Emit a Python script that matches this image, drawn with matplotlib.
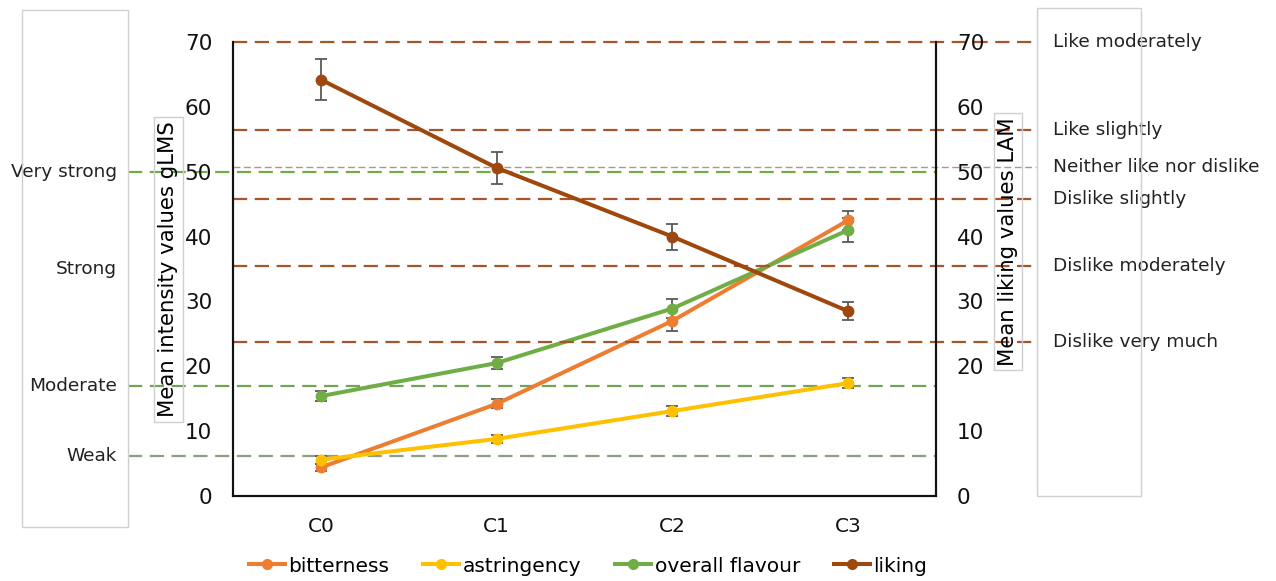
import numpy as np
import matplotlib
matplotlib.use('Agg')
import matplotlib.pyplot as plt
from matplotlib.patches import Rectangle
from matplotlib.lines import Line2D

# samples
samples = ['C0', 'C1', 'C2', 'C3']

# intensity (gLMS), left axis
bitterness = [4.4, 14.2, 27.0, 42.5]
bitterness_err = [0.6, 0.7, 1.5, 1.5]
astringency = [5.6, 8.8, 13.1, 17.4]
astringency_err = [0.6, 0.6, 0.7, 0.8]
flavour = [15.4, 20.5, 28.9, 41.0]
flavour_err = [0.8, 0.9, 1.5, 1.8]

# liking (LAM), right axis
liking = [64.2, 50.6, 40.0, 28.5]
liking_err = [3.2, 2.5, 2.0, 1.4]

# gLMS anchors (left)
glms_labels = ['Very strong', 'Strong', 'Moderate', 'Weak']
glms_values = [50.0, 35.0, 16.9, 6.1]

# LAM anchors (right)
lam_labels = ['Like moderately', 'Like slightly', 'Neither like nor dislike',
              'Dislike slightly', 'Dislike moderately', 'Dislike very much']
lam_values = [70.0, 56.5, 50.7, 45.8, 35.5, 23.7]

series_names = ['bitterness', 'astringency', 'overall flavour', 'liking']
series_colors = ['#ED7D31', '#FFC000', '#70AD47', '#9E480E']

plt.rcParams['font.family'] = 'DejaVu Sans'

fig = plt.figure(figsize=(12.76, 5.81), dpi=100)
ax = fig.add_axes([0.1826, 0.1463, 0.5509, 0.7814])
ax2 = ax.twinx()

x = np.arange(len(samples))

# reference lines, gLMS side
glms_colors = ['#70AD47', None, '#74A356', '#8C9E84']
for lab, val, col in zip(glms_labels, glms_values, glms_colors):
  if col is not None:
    ax.plot([-0.149, 1.0], [val, val], transform=ax.get_yaxis_transform(),
            color=col, lw=1.6, dashes=(6.4, 3.4), clip_on=False, zorder=1)
  ax.text(-0.165, val, lab, transform=ax.get_yaxis_transform(),
          ha='right', va='center', fontsize=13.3, color='#222222')

# reference lines, LAM side
for lab, val in zip(lam_labels, lam_values):
  if lab == 'Neither like nor dislike':
    ax2.plot([0.0, 1.142], [val, val], transform=ax2.get_yaxis_transform(),
             color='#B39585', lw=1.0, dashes=(5, 2.5), clip_on=False, zorder=1)
  else:
    ax2.plot([0.0, 1.142], [val, val], transform=ax2.get_yaxis_transform(),
             color='#A5552A', lw=1.6, dashes=(6.4, 3.4), clip_on=False, zorder=1)
  ax2.text(1.167, val, lab, transform=ax2.get_yaxis_transform(),
           ha='left', va='center', fontsize=13.3, color='#222222')

ekw = dict(ecolor='#5A5A5A', elinewidth=1.3, capsize=4, capthick=1.3,
           lw=2.9, marker='o', ms=7.5)
ax.errorbar(x, bitterness, yerr=bitterness_err, color=series_colors[0],
            zorder=3, **ekw)
ax.errorbar(x, astringency, yerr=astringency_err, color=series_colors[1],
            zorder=3, **ekw)
ax.errorbar(x, flavour, yerr=flavour_err, color=series_colors[2],
            zorder=3, **ekw)
ax2.errorbar(x, liking, yerr=liking_err, color=series_colors[3],
             zorder=3, **ekw)

for a in (ax, ax2):
  a.set_ylim(0, 70)
  a.set_yticks(range(0, 71, 10))
  a.set_xlim(-0.5, 3.5)
  a.spines['top'].set_visible(False)
  for s in ('left', 'right', 'bottom'):
    a.spines[s].set_color('#111111')
    a.spines[s].set_linewidth(1.5)
  a.tick_params(length=0, labelsize=15.5, colors='#111111')
ax.tick_params(axis='y', pad=15)
ax2.tick_params(axis='y', pad=15)
ax.tick_params(axis='x', pad=15, labelsize=14.5)
ax.set_xticks(x)
ax.set_xticklabels(samples)
ax.patch.set_visible(False)

# axis titles in framed boxes
fig.text(168.5 / 1276, 1 - 269.5 / 581, 'Mean intensity values gLMS',
         rotation=90, ha='center', va='center', fontsize=15.3,
         bbox=dict(boxstyle='square,pad=0.2', fc='none', ec='#CFCFCF', lw=1))
fig.text(1008 / 1276, 1 - 241.5 / 581, 'Mean liking values LAM',
         rotation=90, ha='center', va='center', fontsize=15.3,
         bbox=dict(boxstyle='square,pad=0.2', fc='none', ec='#CFCFCF', lw=1))

# empty frames either side
fig.patches.append(Rectangle((22 / 1276, 54 / 581), 106 / 1276, 517 / 581,
                             transform=fig.transFigure, fill=False,
                             ec='#D0D0D0', lw=1))
fig.patches.append(Rectangle((1037 / 1276, 85 / 581), 104 / 1276, 488 / 581,
                             transform=fig.transFigure, fill=False,
                             ec='#D0D0D0', lw=1))

handles = [Line2D([], [], color=c, lw=2.9, marker='o', ms=7) for c in series_colors]
fig.legend(handles, series_names, loc='center', ncol=4, frameon=False,
           bbox_to_anchor=(588 / 1276, 1 - 566 / 581), fontsize=14.5,
           handlelength=1.8, handletextpad=0.15, columnspacing=1.7)

fig.savefig('out.png', dpi=100)
